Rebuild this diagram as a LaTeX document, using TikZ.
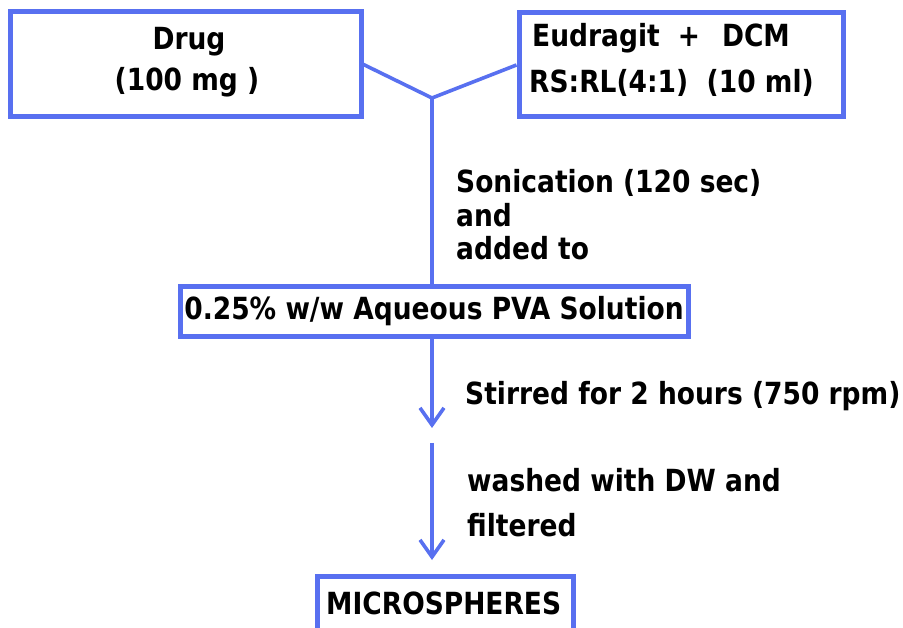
\documentclass[tikz,border=0pt]{standalone}
\usepackage{fontspec}
\setmainfont{DejaVu Sans}
\usetikzlibrary{arrows.meta}
\definecolor{flowblue}{RGB}{88,112,240}
\newcommand{\tallt}[1]{\scalebox{1}[1.15]{#1}}
\tikzset{
  boxed/.style={draw=flowblue, line width=5pt, inner sep=0pt},
  conn/.style={draw=flowblue, line width=3.6pt},
  arr/.style={conn, -{Straight Barb[length=17pt,width=24pt,line width=3.6pt]}},
  txt/.style={font=\fontsize{26.5}{40}\selectfont\bfseries, text=black, inner sep=0pt},
}
\begin{document}
\begin{tikzpicture}[x=1pt,y=-1pt]
\useasboundingbox (0,0) rectangle (903,628);
\clip (0,0) rectangle (903,628);
\fill[white] (0,0) rectangle (903,628);
% boxes
\node[boxed, minimum width=351pt, minimum height=105pt] (drug) at (185.5,64.5) {};
\node[boxed, minimum width=324pt, minimum height=104pt] (eud) at (681,65) {};
\node[boxed, minimum width=508pt, minimum height=50pt] (pva) at (434,312) {};
\node[boxed, minimum width=256pt, minimum height=90pt] (micro) at (445,621) {};
% box texts
\node[txt] (drugt1) at (189,42) {\tallt{Drug}};
\node[txt] (drugt2) at (187,82) {\tallt{(100 mg )}};
\node[txt, anchor=west] (eudt1) at (532,38) {\tallt{Eudragit\hspace{18pt}+\hspace{22pt}DCM}};
\node[txt, anchor=west] (eudt2) at (529,83) {\tallt{RS:RL(4:1)\ \ (10 ml)}};
\node[txt] (pvat) at (434,311) {\tallt{0.25\% w/w Aqueous PVA Solution}};
\node[txt, anchor=west] (microt) at (326,603) {\tallt{MICROSPHERES}};
% step labels
\node[txt, anchor=west] (sonic1) at (456,183) {\tallt{Sonication (120 sec)}};
\node[txt, anchor=west] (sonic2) at (456,215) {\tallt{and}};
\node[txt, anchor=west] (sonic3) at (456,248) {\tallt{added to}};
\node[txt, anchor=west] (stir) at (465,396) {\tallt{Stirred for 2 hours (750 rpm)}};
\node[txt, anchor=west] (wash1) at (467,480) {\tallt{washed with DW and}};
\node[txt, anchor=west] (wash2) at (467,525) {\tallt{filtered}};
% connectors
\coordinate (join) at (432,98);
\coordinate (a1end) at (432,428);
\coordinate (a2start) at (432,443);
\coordinate (a2end) at (432,560);
\draw[conn] (drug.east) -- (join) -- (eud.west);
\draw[conn] (join) -- (join |- pva.north);
\draw[arr] (join |- pva.south) -- (a1end);
\draw[arr] (a2start) -- (a2end);
\end{tikzpicture}
\end{document}
